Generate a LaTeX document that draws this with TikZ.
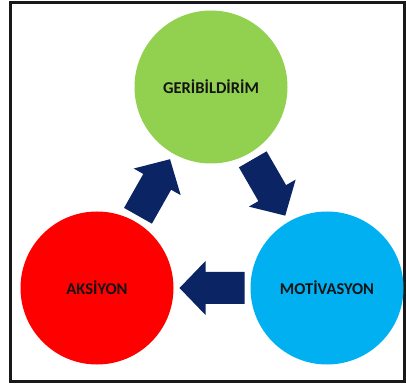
\documentclass[tikz,border=0pt]{standalone}
\usepackage{fontspec}
\setmainfont{Carlito}
\usetikzlibrary{calc}
\definecolor{cgreen}{HTML}{92D050}
\definecolor{cred}{HTML}{FF0000}
\definecolor{cblue}{HTML}{00B0F0}
\definecolor{navy}{HTML}{0B2463}
\definecolor{ink}{HTML}{141414}
\tikzset{
  x=1pt, y=1pt,
  stage/.style={circle, minimum size=153pt, inner sep=0pt,
    text=ink, font=\fontsize{16.5}{19}\selectfont\bfseries},
  frame/.style={draw=black!90, line width=3pt},
  % block arrow pointing along +x, centred on the origin
  pics/blockarrow/.style={code={
    \fill[navy] (-32.5,-16) -- (6.5,-16) -- (6.5,-27) -- (32.5,0)
      -- (6.5,27) -- (6.5,16) -- (-32.5,16) -- cycle;
  }}
}
% block arrow midway between two nodes, pointing from #1 to #2
\newcommand{\cyclearrow}[2]{%
  \path let \p1 = ($(#2)-(#1)$), \n1 = {atan2(\y1,\x1)} in
    pic[rotate=\n1] at ($(#1)!0.5!(#2)$) {blockarrow};}
\begin{document}
\begin{tikzpicture}
  \useasboundingbox (0,0) rectangle (406,385);
  \draw[frame] (10.8,4) rectangle (404,382);

  \node[stage, fill=cgreen] (ger) at (211,298) {GERİBİLDİRİM};
  \node[stage, fill=cred]   (aks) at (97,97)   {AKSİYON};
  \node[stage, fill=cblue]  (mot) at (327,97)  {MOTİVASYON};

  \cyclearrow{aks}{ger}
  \cyclearrow{ger}{mot}
  \cyclearrow{mot}{aks}
\end{tikzpicture}
\end{document}
